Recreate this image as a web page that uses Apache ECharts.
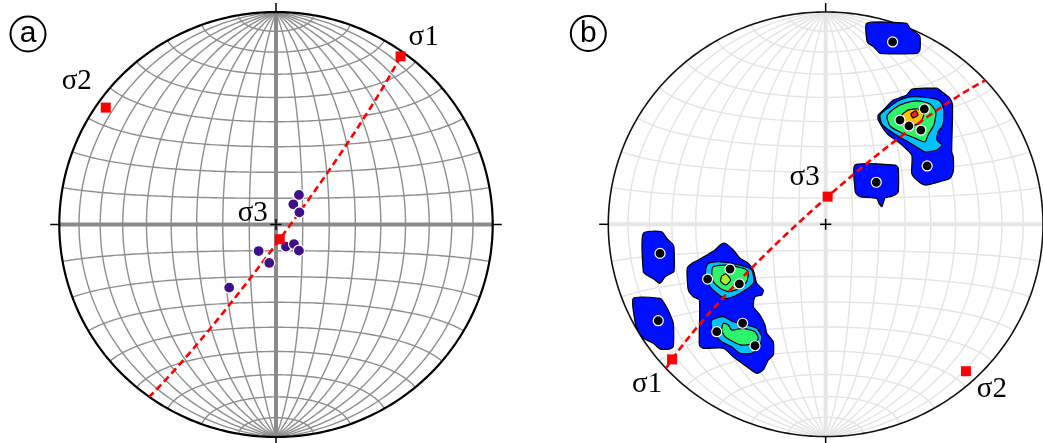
<!DOCTYPE html>
<html><head><meta charset="utf-8">
<script src="https://cdn.jsdelivr.net/npm/echarts@6/dist/echarts.min.js"></script>
<style>html,body{margin:0;padding:0;background:#fff}#c{width:1043px;height:443px}</style>
</head><body><div id="c"></div>
<script>
// ---------- DATA (equal-area net coordinates, unit primitive; stress axes as [trend, plunge]) ----------
const stressNames = ['σ1', 'σ2', 'σ3'];
const stressA = [[36, 2.5], [305, 4.6], [166, 84.2]];
const stressB = [[228, 5.5], [137, 6.0], [4, 79.4]];
const polesA = [[0.106,0.139],[0.080,0.095],[0.108,0.057],[0.046,-0.104],[0.083,-0.092],[0.106,-0.123],[-0.080,-0.125],[-0.031,-0.181],[-0.216,-0.297]];
const polesB = [[0.308,0.859],[0.454,0.543],[0.342,0.491],[0.383,0.463],[0.438,0.444],[0.467,0.275],[0.233,0.198],
  [-0.762,-0.137],[-0.770,-0.454],[-0.440,-0.211],[-0.543,-0.258],[-0.397,-0.281],[-0.382,-0.466],[-0.501,-0.506],[-0.325,-0.572]];
const contourColors = ['#0010ff', '#00c0ff', '#2ef46c', '#a6f22a', '#ffc000', '#ff2200'];
// [level, ring]
const contoursB = [
  [0, [[0.189,0.947],[0.373,0.947],[0.388,0.923],[0.419,0.900],[0.434,0.884],[0.434,0.821],[0.421,0.805],[0.250,0.805],[0.235,0.821],[0.219,0.837],[0.196,0.853],[0.189,0.868]]],
  [0, [[0.242,0.515],[0.273,0.546],[0.311,0.585],[0.373,0.609],[0.396,0.636],[0.511,0.641],[0.534,0.625],[0.572,0.593],[0.584,0.562],[0.580,0.342],[0.587,0.318],[0.587,0.248],[0.572,0.217],[0.526,0.201],[0.457,0.185],[0.419,0.209],[0.396,0.240],[0.396,0.326],[0.342,0.382],[0.281,0.429],[0.242,0.491]]],
  [1, [[0.250,0.515],[0.287,0.548],[0.333,0.581],[0.388,0.600],[0.480,0.595],[0.526,0.581],[0.544,0.538],[0.540,0.468],[0.517,0.435],[0.512,0.397],[0.535,0.374],[0.512,0.350],[0.457,0.341],[0.411,0.369],[0.365,0.397],[0.310,0.430],[0.259,0.472]]],
  [2, [[0.282,0.510],[0.319,0.548],[0.365,0.571],[0.425,0.581],[0.480,0.567],[0.507,0.529],[0.498,0.468],[0.471,0.421],[0.457,0.388],[0.411,0.406],[0.351,0.430],[0.296,0.463]]],
  [4, [[0.342,0.505],[0.379,0.538],[0.425,0.543],[0.452,0.524],[0.438,0.482],[0.397,0.463],[0.356,0.472]]],
  [5, [[0.392,0.520],[0.415,0.534],[0.425,0.515],[0.402,0.501]]],
  [0, [[0.135,0.279],[0.319,0.279],[0.334,0.265],[0.334,0.152],[0.319,0.138],[0.296,0.130],[0.273,0.124],[0.259,0.083],[0.245,0.100],[0.235,0.122],[0.158,0.130],[0.139,0.147],[0.135,0.162]]],
  [0, [[-0.839,-0.042],[-0.754,-0.035],[-0.731,-0.066],[-0.708,-0.089],[-0.698,-0.106],[-0.698,-0.223],[-0.716,-0.234],[-0.739,-0.247],[-0.754,-0.270],[-0.765,-0.278],[-0.785,-0.262],[-0.823,-0.239],[-0.839,-0.223]]],
  [0, [[-0.885,-0.349],[-0.762,-0.349],[-0.747,-0.365],[-0.725,-0.404],[-0.701,-0.466],[-0.701,-0.577],[-0.716,-0.587],[-0.762,-0.587],[-0.793,-0.560],[-0.839,-0.537],[-0.862,-0.505],[-0.875,-0.470]]],
  [0, [[-0.463,-0.089],[-0.425,-0.121],[-0.394,-0.160],[-0.356,-0.184],[-0.333,-0.215],[-0.317,-0.278],[-0.287,-0.309],[-0.294,-0.333],[-0.325,-0.341],[-0.333,-0.388],[-0.302,-0.427],[-0.279,-0.474],[-0.271,-0.513],[-0.241,-0.553],[-0.241,-0.616],[-0.264,-0.639],[-0.287,-0.686],[-0.317,-0.702],[-0.363,-0.671],[-0.425,-0.624],[-0.471,-0.584],[-0.563,-0.584],[-0.581,-0.569],[-0.581,-0.357],[-0.609,-0.341],[-0.632,-0.309],[-0.637,-0.207],[-0.616,-0.184],[-0.586,-0.168],[-0.547,-0.145],[-0.509,-0.121],[-0.486,-0.097]]],
  [1, [[-0.540,-0.184],[-0.494,-0.176],[-0.394,-0.192],[-0.340,-0.215],[-0.330,-0.270],[-0.348,-0.294],[-0.394,-0.325],[-0.425,-0.341],[-0.463,-0.349],[-0.501,-0.325],[-0.532,-0.294],[-0.551,-0.254],[-0.551,-0.207]]],
  [1, [[-0.524,-0.451],[-0.471,-0.435],[-0.425,-0.459],[-0.363,-0.474],[-0.317,-0.490],[-0.294,-0.529],[-0.305,-0.577],[-0.340,-0.608],[-0.394,-0.608],[-0.432,-0.577],[-0.478,-0.553],[-0.509,-0.521],[-0.524,-0.490]]],
  [2, [[-0.517,-0.200],[-0.455,-0.192],[-0.379,-0.207],[-0.356,-0.223],[-0.363,-0.270],[-0.394,-0.301],[-0.448,-0.317],[-0.486,-0.301],[-0.517,-0.270],[-0.524,-0.231]]],
  [2, [[-0.471,-0.466],[-0.448,-0.474],[-0.432,-0.498],[-0.379,-0.490],[-0.325,-0.506],[-0.310,-0.537],[-0.325,-0.560],[-0.386,-0.569],[-0.425,-0.553],[-0.463,-0.529],[-0.478,-0.498]]],
  [3, [[-0.478,-0.244],[-0.459,-0.234],[-0.437,-0.262],[-0.459,-0.286],[-0.483,-0.270]]]
];

// ---------- projection helpers (lower hemisphere, equal-area) ----------
const D = Math.PI / 180;
function vec(trend, plunge) { const t = trend * D, p = plunge * D; return [Math.cos(p) * Math.sin(t), Math.cos(p) * Math.cos(t), Math.sin(p)]; }
function proj(v) { let [e, n, d] = v; if (d < 0) { e = -e; n = -n; d = -d; } const s = 1 / Math.sqrt(1 + d); return [e * s, n * s]; }

function netLines() {
  const out = [];
  for (let dip = 10; dip <= 80; dip += 10) for (const sg of [1, -1]) {
    const pts = [];
    for (let i = 0; i <= 120; i++) { const th = Math.PI * i / 120; pts.push(proj([sg * Math.sin(th) * Math.cos(dip * D), Math.cos(th), Math.sin(th) * Math.sin(dip * D)])); }
    out.push({ coords: pts });
  }
  for (let a = 10; a <= 170; a += 10) {
    if (a === 90) continue;
    const pts = [];
    for (let i = 0; i <= 120; i++) { const ph = Math.PI * i / 120; pts.push(proj([Math.sin(a * D) * Math.cos(ph), Math.cos(a * D), Math.sin(a * D) * Math.sin(ph)])); }
    out.push({ coords: pts });
  }
  return out;
}
function circlePts() { const p = []; for (let i = 0; i <= 360; i++) p.push([Math.sin(i * D), Math.cos(i * D)]); return p; }
function greatCircle(s1, s3, fromS1) {
  const a = vec(s1[0], s1[1]), c = vec(s3[0], s3[1]);
  const dot = a[0] * c[0] + a[1] * c[1] + a[2] * c[2];
  let b = [c[0] - dot * a[0], c[1] - dot * a[1], c[2] - dot * a[2]];
  const bl = Math.hypot(b[0], b[1], b[2]); b = b.map(x => x / bl);
  const phi = Math.atan2(b[2], a[2]);
  const t0 = fromS1 ? Math.max(0, phi - Math.PI / 2) : phi - Math.PI / 2, t1 = phi + Math.PI / 2;
  const pts = [];
  for (let i = 0; i <= 200; i++) {
    const t = t0 + (t1 - t0) * i / 200;
    const v = [0, 1, 2].map(k => Math.cos(t) * a[k] + Math.sin(t) * b[k]);
    v[2] = Math.max(v[2], 0);
    pts.push(proj(v));
  }
  return pts;
}

const TK = 0.042, PL = 0.026;
function panelSeries(idx, o) {
  const base = { xAxisIndex: idx, yAxisIndex: idx, coordinateSystem: 'cartesian2d', silent: true, animation: false };
  const S = [];
  S.push(Object.assign({ type: 'lines', polyline: true, z: 1, clip: false, data: netLines(), lineStyle: { color: o.net, width: o.netW, opacity: 1 } }, base));
  S.push(Object.assign({ type: 'lines', polyline: true, z: 2, clip: false, data: [{ coords: [[0, -1], [0, 1]] }, { coords: [[-1, 0], [1, 0]] }], lineStyle: { color: o.axis, width: 4, opacity: 1 } }, base));
  S.push(Object.assign({ type: 'lines', polyline: true, z: 3, clip: false, data: [{ coords: circlePts() }], lineStyle: { color: o.prim, width: o.primW, opacity: 1 } }, base));
  S.push(Object.assign({ type: 'lines', polyline: true, z: 3, clip: false,
    data: [{ coords: [[0, 1], [0, 1 + TK]] }, { coords: [[0, -1], [0, -1 - TK]] }, { coords: [[1, 0], [1 + TK, 0]] }, { coords: [[-1, 0], [-1 - TK, 0]] },
           { coords: [[-PL, 0], [PL, 0]] }, { coords: [[0, -PL], [0, PL]] }],
    lineStyle: { color: '#000', width: 1.5, opacity: 1 } }, base));
  if (o.contours) {
    S.push(Object.assign({ type: 'custom', z: 4, clip: false,
      data: o.contours.map((c, i) => [c[1][0][0], c[1][0][1], i]),
      renderItem: function (params, api) {
        const c = o.contours[api.value(2)];
        return { type: 'polygon', shape: { points: c[1].map(p => api.coord(p)), smooth: 0.2 },
          style: { fill: contourColors[c[0]], stroke: '#000', lineWidth: 1.2 } };
      } }, base));
  }
  S.push(Object.assign({ type: 'lines', polyline: true, z: 5, clip: false, data: [{ coords: greatCircle(o.stress[0], o.stress[2], o.fromS1) }],
    lineStyle: { color: '#ff0000', width: 2.6, type: [7, 4], opacity: 1 } }, base));
  S.push(Object.assign({ type: 'scatter', z: 6, clip: false, data: o.poles, symbol: 'circle', symbolSize: o.ptSize,
    itemStyle: { color: o.ptColor, borderColor: '#fff', borderWidth: 1.2, opacity: 1 } }, base));
  S.push(Object.assign({ type: 'scatter', z: 7, clip: false, symbol: 'rect', symbolSize: 10,
    data: o.stress.map((s, i) => ({ value: proj(vec(s[0], s[1])), name: stressNames[i],
      label: { show: true, position: 'inside', offset: o.lab[i], formatter: stressNames[i], color: '#000', fontFamily: 'Liberation Serif', fontSize: 29, opacity: 1 } })),
    itemStyle: { color: '#ff0000', opacity: 1 } }, base));
  return S;
}

const chart = echarts.init(document.getElementById('c'), null, { renderer: 'canvas' });
const ax = (i) => ({ type: 'value', min: -1, max: 1, show: false, gridIndex: i });
chart.setOption({
  animation: false,
  backgroundColor: '#fff',
  grid: [{ left: 59.3, top: 12, width: 433.4, height: 425 }, { left: 608.3, top: 12, width: 434.8, height: 424.6 }],
  xAxis: [ax(0), ax(1)], yAxis: [ax(0), ax(1)],
  graphic: [
    { type: 'circle', shape: { cx: 28, cy: 34, r: 17.5 }, style: { fill: 'none', stroke: '#000', lineWidth: 2 } },
    { type: 'text', x: 28, y: 34, style: { text: 'a', fontFamily: 'Liberation Sans', fontSize: 30, fill: '#000', align: 'center', verticalAlign: 'middle' } },
    { type: 'circle', shape: { cx: 588.3, cy: 33.5, r: 17.5 }, style: { fill: 'none', stroke: '#000', lineWidth: 2 } },
    { type: 'text', x: 588.3, y: 33.5, style: { text: 'b', fontFamily: 'Liberation Sans', fontSize: 30, fill: '#000', align: 'center', verticalAlign: 'middle' } }
  ],
  series: [].concat(
    panelSeries(0, { net: '#8e8e8e', netW: 1.4, axis: '#8a8a8a', prim: '#000', primW: 2.2, stress: stressA, fromS1: true, poles: polesA, ptColor: '#3f1189', ptSize: 11,
      lab: [[23, -19], [-29, -26], [-27, -26]] }),
    panelSeries(1, { net: '#e4e4e4', netW: 1.4, axis: '#e6e6e6', prim: '#111', primW: 1.6, stress: stressB, fromS1: false, poles: polesB, ptColor: '#000', ptSize: 10,
      contours: contoursB, lab: [[-25, 25], [26, 18], [-23, -19]] })
  )
});
</script></body></html>
